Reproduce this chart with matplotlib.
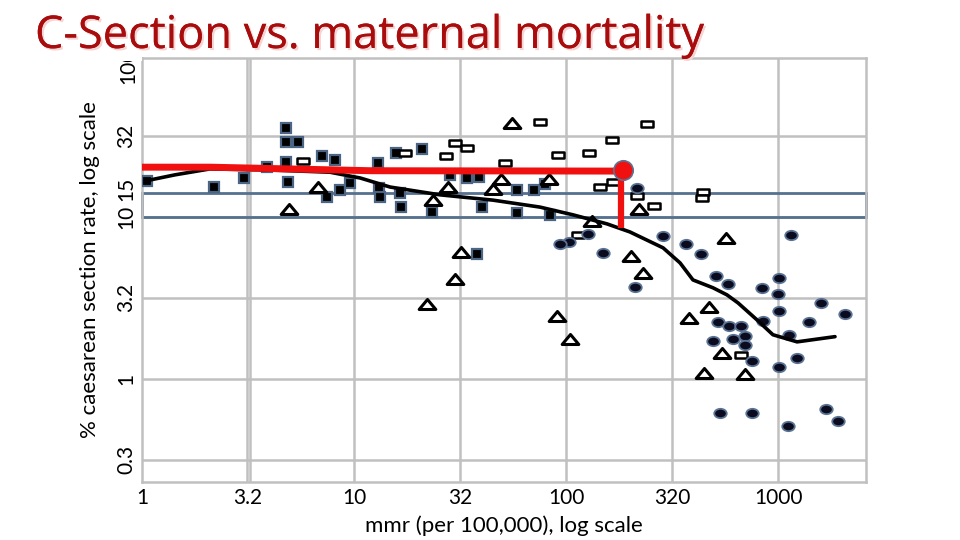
import matplotlib
matplotlib.use("Agg")
import matplotlib.pyplot as plt
import matplotlib.path as mpath
import matplotlib.patheffects as pe
from matplotlib.patches import Rectangle
import numpy as np

plt.rcParams['font.family'] = ['Lato', 'DejaVu Sans']

# filled squares
sq_x = [1.06, 2.19, 3.03, 4.78, 4.78, 5.44, 3.89, 4.78, 4.88, 7.06, 8.13, 7.46, 8.59, 9.58,
        13.0, 13.1, 13.3, 15.8, 20.9, 16.5, 16.7, 23.3, 28.4, 34.1, 38.9, 40.2, 58.7, 58.7,
        70.6, 79.6, 84.1, 38.0]
sq_y = [16.7, 15.3, 17.4, 35.4, 29.0, 29.0, 20.4, 21.9, 16.4, 23.8, 22.5, 13.3, 14.7, 16.2,
        21.5, 15.1, 13.3, 24.8, 26.3, 14.1, 11.5, 10.7, 18.2, 17.4, 17.7, 11.5, 14.7, 10.6,
        14.7, 16.0, 10.3, 5.91]

# open rectangles
rc_x = [5.75, 17.4, 27.2, 29.9, 34.1, 51.6, 75.4, 91.7, 128, 165, 241, 145, 167, 216, 260,
        443, 438, 114, 669]
rc_y = [22.2, 24.8, 23.8, 28.6, 26.7, 21.5, 38.6, 24.1, 24.8, 29.9, 37.5, 15.3, 16.4, 13.5,
        11.7, 14.3, 13.1, 7.74, 1.41]

# open triangles
tr_x = [6.76, 4.94, 55.6, 23.6, 27.8, 45.2, 49.4, 83.2, 133, 32.0, 29.9, 203, 231, 221,
        22.1, 90.7, 104, 569, 473, 380, 544, 448, 699]
tr_y = [15.3, 11.2, 38.0, 12.7, 15.3, 14.9, 17.2, 17.2, 9.45, 6.08, 4.14, 5.75, 4.51, 11.2,
        2.90, 2.45, 1.77, 7.42, 2.78, 2.38, 1.45, 1.09, 1.07]

# filled ellipses
el_x = [216, 127, 103, 93.7, 150, 212, 287, 368, 433, 1152, 510, 581, 841, 1011, 1000, 1596,
        2070, 1011, 850, 521, 587, 669, 699, 614, 493, 699, 1127, 1400, 754, 1011, 1230,
        532, 754, 1114, 1684, 1919]
el_y = [15.1, 7.85, 7.01, 6.81, 6.00, 3.70, 7.63, 6.81, 5.91, 7.74, 4.32, 3.86, 3.65, 4.20,
        3.35, 2.94, 2.52, 2.63, 2.28, 2.25, 2.12, 2.12, 1.84, 1.77, 1.72, 1.62, 1.87, 2.25,
        1.29, 1.19, 1.35, 0.617, 0.617, 0.513, 0.653, 0.551]

# smoothed trend
curve_x = [1.04, 1.43, 2.09, 4.01, 7.70, 10.7, 14.8, 25.4, 45.2, 75.4, 108, 156, 200, 287,
           345, 397, 493, 574, 648, 796, 946, 1230, 1857]
curve_y = [16.7, 18.2, 19.8, 19.5, 18.9, 17.4, 15.3, 13.7, 12.7, 11.5, 10.3, 9.06, 8.08,
           6.44, 5.20, 4.08, 3.65, 3.30, 2.94, 2.31, 1.87, 1.69, 1.82]

# red marker line
red_x = [1, 2.1, 12, 185]
red_y = [20.3, 20.3, 19.3, 19.2]
red_pt = (185, 19.6)
drop_x = [181, 181]
drop_y = [17.5, 8.6]

# recommended band
band_lo, band_hi = 10, 14

xticks = [1, 3.16, 10, 31.6, 100, 316, 1000]
xlabels = ["1", "3.2", "10", "32", "100", "320", "1000"]
yticks = [0.316, 1, 3.16, 10, 15, 31.6]
ylabels = ["0.3", "1", "3.2", "10", "15", "32"]
gridx = [3.12, 3.22, 10, 31.6, 100, 316, 1000]
gridy = [0.316, 1, 3.16, 10, 31.6]

x_lo, x_hi = 1, 2600

fig = plt.figure(figsize=(9.6, 5.4), dpi=100)
ax = fig.add_axes([142/960, 58/540, 724/960, 424/540])
ax.set_xscale('log')
ax.set_yscale('log')
ax.set_xlim(x_lo, x_hi)
ax.set_ylim(0.23, 96)

grey = '#c0c0c0'
for g in gridx:
    ax.axvline(g, color=grey, lw=1.8, zorder=0)
for g in gridy:
    ax.axhline(g, color=grey, lw=1.8, zorder=0)
for s in ax.spines.values():
    s.set_color(grey)
    s.set_linewidth(1.8)

ax.add_patch(Rectangle((x_lo, band_lo), x_hi - x_lo, band_hi - band_lo, fill=False,
                       edgecolor='#56708f', lw=2, zorder=1, clip_on=False))

rect_m = mpath.Path([(-1, -0.5), (1, -0.5), (1, 0.5), (-1, 0.5), (-1, -0.5)], closed=True)
tri_m = mpath.Path([(-1, -0.6), (1, -0.6), (0, 0.6), (-1, -0.6)], closed=True)
circ = mpath.Path.unit_circle()
ell_m = mpath.Path(circ.vertices * np.array([1, 0.75]), circ.codes)

ax.plot(sq_x, sq_y, ls='none', marker='s', ms=6.5, mfc='black', mec='#4d6584', mew=1.6, zorder=3)
ax.plot(rc_x, rc_y, ls='none', marker=rect_m, ms=9, mfc='white', mec='black', mew=1.8, zorder=3)
ax.plot(tr_x, tr_y, ls='none', marker=tri_m, ms=12, mfc='white', mec='black', mew=2.2, zorder=3)
ax.plot(el_x, el_y, ls='none', marker=ell_m, ms=9, mfc='#0b0b20', mec='#5b7393', mew=1.3, zorder=3)

ax.plot(curve_x, curve_y, color='black', lw=2.6, zorder=4, solid_capstyle='round')

ax.plot(red_x, red_y, color='#f01010', lw=5, zorder=5, solid_capstyle='butt')
ax.plot(drop_x, drop_y, color='#f01010', lw=4.5, zorder=5, solid_capstyle='butt')
ax.plot([red_pt[0]], [red_pt[1]], ls='none', marker='o', ms=14, mfc='#f01010', mec='#5b7393',
        mew=1.2, zorder=6)

ax.minorticks_off()
ax.set_xticks(xticks)
ax.set_xticklabels(xlabels, fontsize=15)
ax.set_yticks(yticks)
ax.set_yticklabels(ylabels, fontsize=15, rotation=90, va='center')
ax.tick_params(length=0, pad=4)
ax.text(-0.0193, 86, "100", transform=ax.get_yaxis_transform(), rotation=90,
        ha='center', va='center', fontsize=15, clip_on=False)

ax.set_xlabel("mmr (per 100,000), log scale", fontsize=16, labelpad=6)
ax.set_ylabel("% caesarean section rate, log scale", fontsize=16, labelpad=12)

# cover strip above the plot where the top label is cut
fig.patches.append(Rectangle((100/960, 1 - 61/540), 42/960, 61/540, transform=fig.transFigure,
                             facecolor='white', edgecolor='none', zorder=1))
fig.text(35/960, 1 - 48/540, "C-Section vs. maternal mortality", fontsize=32.5, color='#a80c0c',
         family=['Open Sans', 'DejaVu Sans'], va='baseline', ha='left', zorder=2,
         path_effects=[pe.withSimplePatchShadow(offset=(1.5, -1.5), shadow_rgbFace='#f6d4d4', alpha=1),
                       pe.Normal()])

fig.savefig("out.png", dpi=100)
